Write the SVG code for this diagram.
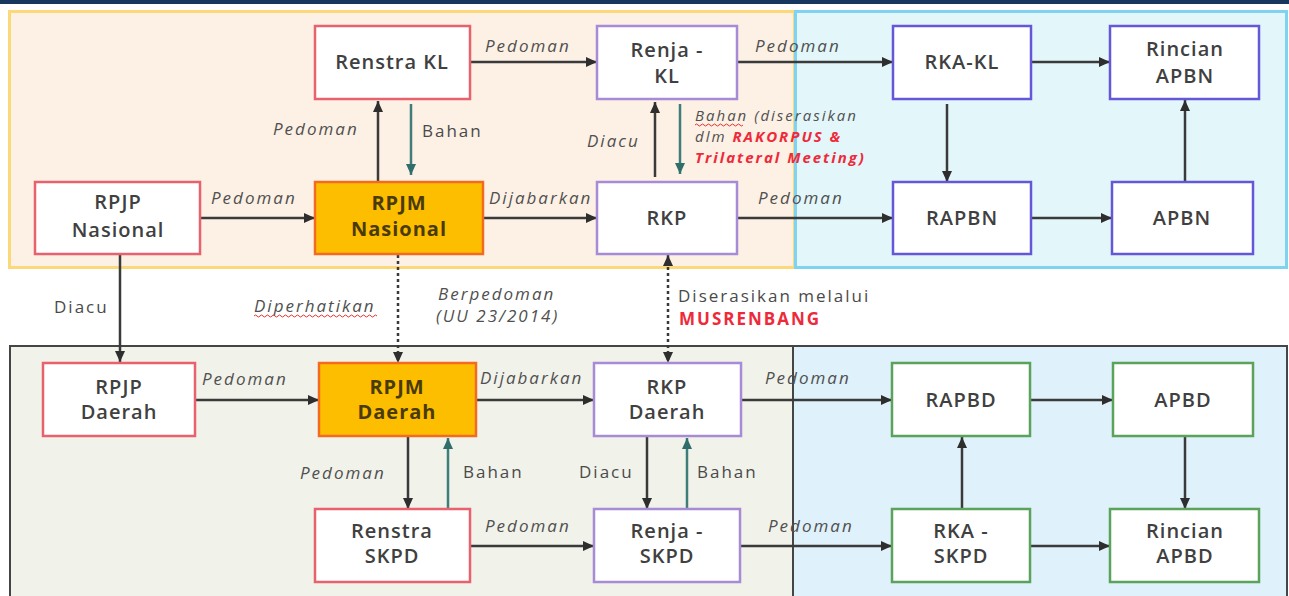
<svg xmlns="http://www.w3.org/2000/svg" width="1289" height="596" viewBox="0 0 1289 596">
<style>
.nt{font-family:"Open Sans","Noto Sans",sans-serif;font-size:20px;font-weight:600;fill:#404040;text-anchor:middle;letter-spacing:1px}
.nb{font-weight:700;fill:#4a3a05}
.lb{font-family:"Open Sans","Noto Sans",sans-serif;font-size:17px;font-style:italic;fill:#505050;letter-spacing:2px}
.ln{font-family:"Open Sans","Noto Sans",sans-serif;font-size:17px;fill:#4a4a4a;letter-spacing:2px}
.sm{font-size:15px;letter-spacing:2px}
.red{fill:#ee2a3a;font-weight:700}
.c{stroke:#3a3a3a;stroke-width:2.5;fill:none}
.t{stroke:#3f7d7a;stroke-width:2.5;fill:none}
.d{stroke:#3a3a3a;stroke-width:2.5;fill:none;stroke-dasharray:3 3}
.r{fill:#fff;stroke:#e8626e;stroke-width:2.5}
.o{fill:#fdbe00;stroke:#f26b21;stroke-width:2.5}
.p{fill:#fff;stroke:#a88bd6;stroke-width:2.5}
.b{fill:#fff;stroke:#6558d8;stroke-width:2.5}
.g{fill:#fff;stroke:#5ba35b;stroke-width:2.5}
.w{stroke:#e53030;stroke-width:1;fill:none}
</style>
<defs>
<marker id="a" markerUnits="userSpaceOnUse" markerWidth="11" markerHeight="10" refX="11" refY="5" orient="auto-start-reverse"><path d="M0,0 L11,5 L0,10 z" fill="#2e2e2e"/></marker>
<marker id="at" markerUnits="userSpaceOnUse" markerWidth="11" markerHeight="10" refX="11" refY="5" orient="auto"><path d="M0,0 L11,5 L0,10 z" fill="#2f6e6a"/></marker>
</defs>
<rect x="0" y="0" width="1289" height="4" fill="#17375e"/>
<g id="panels">
<rect x="9.5" y="11.5" width="785" height="256" fill="#fdf0e5" stroke="#fbd97a" stroke-width="3"/>
<rect x="795.5" y="11.5" width="491" height="256" fill="#e3f7fb" stroke="#7fd3f0" stroke-width="3"/>
<rect x="10" y="346" width="783" height="262" fill="#f1f2ea" stroke="#454545" stroke-width="2"/>
<rect x="793" y="346" width="494" height="262" fill="#dff1fa" stroke="#454545" stroke-width="2"/>
</g>
<g id="connectors">
<line class="c" x1="470" y1="62" x2="597" y2="62" marker-end="url(#a)"/>
<line class="c" x1="737" y1="62" x2="893" y2="62" marker-end="url(#a)"/>
<line class="c" x1="1031" y1="62" x2="1110" y2="62" marker-end="url(#a)"/>
<line class="c" x1="200" y1="218" x2="315" y2="218" marker-end="url(#a)"/>
<line class="c" x1="483" y1="218" x2="597" y2="218" marker-end="url(#a)"/>
<line class="c" x1="737" y1="218" x2="893" y2="218" marker-end="url(#a)"/>
<line class="c" x1="1031" y1="218" x2="1112" y2="218" marker-end="url(#a)"/>
<line class="c" x1="947" y1="104" x2="947" y2="182" marker-end="url(#a)"/>
<line class="c" x1="1185" y1="182" x2="1185" y2="100" marker-end="url(#a)"/>
<line class="c" x1="378" y1="182" x2="378" y2="101" marker-end="url(#a)"/>
<line class="t" x1="411" y1="104" x2="411" y2="175" marker-end="url(#at)"/>
<line class="c" x1="655" y1="177" x2="655" y2="102" marker-end="url(#a)"/>
<line class="t" x1="680" y1="104" x2="680" y2="174" marker-end="url(#at)"/>
<line class="c" x1="120" y1="254" x2="120" y2="362" marker-end="url(#a)"/>
<line class="d" x1="398" y1="255" x2="398" y2="363" marker-end="url(#a)"/>
<line class="d" x1="668" y1="255" x2="668" y2="363" marker-start="url(#a)" marker-end="url(#a)"/>
<line class="c" x1="195" y1="400" x2="319" y2="400" marker-end="url(#a)"/>
<line class="c" x1="476" y1="400" x2="594" y2="400" marker-end="url(#a)"/>
<line class="c" x1="741" y1="400" x2="892" y2="400" marker-end="url(#a)"/>
<line class="c" x1="1030" y1="400" x2="1113" y2="400" marker-end="url(#a)"/>
<line class="c" x1="1185" y1="436" x2="1185" y2="509" marker-end="url(#a)"/>
<line class="c" x1="962" y1="509" x2="962" y2="437" marker-end="url(#a)"/>
<line class="c" x1="408" y1="436" x2="408" y2="509" marker-end="url(#a)"/>
<line class="t" x1="448" y1="509" x2="448" y2="438" marker-end="url(#at)"/>
<line class="c" x1="647" y1="436" x2="647" y2="509" marker-end="url(#a)"/>
<line class="t" x1="687" y1="509" x2="687" y2="438" marker-end="url(#at)"/>
<line class="c" x1="470" y1="546" x2="594" y2="546" marker-end="url(#a)"/>
<line class="c" x1="740" y1="546" x2="892" y2="546" marker-end="url(#a)"/>
<line class="c" x1="1030" y1="546" x2="1110" y2="546" marker-end="url(#a)"/>
</g>
<g id="labels">
<text class="lb" x="485" y="52">Pedoman</text>
<text class="lb" x="755" y="52">Pedoman</text>
<text class="lb" x="211" y="204">Pedoman</text>
<text class="lb" x="489" y="204">Dijabarkan</text>
<text class="lb" x="758" y="204">Pedoman</text>
<text class="lb" x="273" y="135">Pedoman</text>
<text class="ln" x="422" y="137">Bahan</text>
<text class="lb" x="587" y="147">Diacu</text>
<text class="lb sm" x="695" y="121">Bahan (diserasikan</text>
<path class="w" d="M695,125 q1.5,-2 3,0 t3,0 t3,0 t3,0 t3,0 t3,0 t3,0 t3,0 t3,0 t3,0 t3,0 t3,0 t3,0 t3,0 t3,0 t3,0"/>
<text class="lb sm" x="695" y="142">dlm <tspan class="red">RAKORPUS &amp;</tspan></text>
<text class="lb sm red" x="695" y="163">Trilateral Meeting)</text>
<text class="ln" x="54" y="313">Diacu</text>
<text class="lb" x="254" y="312">Diperhatikan</text>
<path class="w" d="M254,316 q1.5,-2 3,0 t3,0 t3,0 t3,0 t3,0 t3,0 t3,0 t3,0 t3,0 t3,0 t3,0 t3,0 t3,0 t3,0 t3,0 t3,0 t3,0 t3,0 t3,0 t3,0 t3,0 t3,0 t3,0 t3,0 t3,0 t3,0 t3,0 t3,0 t3,0 t3,0 t3,0 t3,0 t3,0 t3,0 t3,0 t3,0 t3,0 t3,0 t3,0 t3,0 t3,0"/>
<text class="lb" x="438" y="300">Berpedoman</text>
<text class="lb" x="436" y="322">(UU 23/2014)</text>
<text class="ln" x="678" y="302">Diserasikan melalui</text>
<text class="ln red" x="679" y="325" font-size="16">MUSRENBANG</text>
<text class="lb" x="202" y="385">Pedoman</text>
<text class="lb" x="480" y="384">Dijabarkan</text>
<text class="lb" x="765" y="384">Pedoman</text>
<text class="lb" x="300" y="479">Pedoman</text>
<text class="ln" x="463" y="478">Bahan</text>
<text class="ln" x="579" y="478">Diacu</text>
<text class="ln" x="697" y="478">Bahan</text>
<text class="lb" x="485" y="532">Pedoman</text>
<text class="lb" x="768" y="532">Pedoman</text>
</g>
<g id="n-renstra-kl"><rect class="r" x="315" y="26" width="155" height="73"/><text class="nt" x="392" y="69">Renstra KL</text></g>
<g id="n-renja-kl"><rect class="p" x="597" y="26" width="140" height="73"/><text class="nt" x="667" y="57">Renja -</text><text class="nt" x="667" y="83">KL</text></g>
<g id="n-rka-kl"><rect class="b" x="893" y="26" width="138" height="73"/><text class="nt" x="962" y="69">RKA-KL</text></g>
<g id="n-rincian-apbn"><rect class="b" x="1110" y="26" width="149" height="73"/><text class="nt" x="1185" y="56">Rincian</text><text class="nt" x="1185" y="83">APBN</text></g>
<g id="n-rpjp-nasional"><rect class="r" x="35" y="182" width="165" height="72"/><text class="nt" x="118" y="209">RPJP</text><text class="nt" x="118" y="237">Nasional</text></g>
<g id="n-rpjm-nasional"><rect class="o" x="315" y="182" width="168" height="72"/><text class="nt nb" x="399" y="210">RPJM</text><text class="nt nb" x="399" y="236">Nasional</text></g>
<g id="n-rkp"><rect class="p" x="597" y="182" width="140" height="72"/><text class="nt" x="667" y="225">RKP</text></g>
<g id="n-rapbn"><rect class="b" x="893" y="182" width="138" height="72"/><text class="nt" x="962" y="225">RAPBN</text></g>
<g id="n-apbn"><rect class="b" x="1112" y="182" width="141" height="72"/><text class="nt" x="1182" y="225">APBN</text></g>
<g id="n-rpjp-daerah"><rect class="r" x="43" y="363" width="152" height="73"/><text class="nt" x="119" y="394">RPJP</text><text class="nt" x="119" y="419">Daerah</text></g>
<g id="n-rpjm-daerah"><rect class="o" x="319" y="363" width="157" height="73"/><text class="nt nb" x="397" y="394">RPJM</text><text class="nt nb" x="397" y="419">Daerah</text></g>
<g id="n-rkp-daerah"><rect class="p" x="594" y="363" width="147" height="73"/><text class="nt" x="667" y="394">RKP</text><text class="nt" x="667" y="419">Daerah</text></g>
<g id="n-rapbd"><rect class="g" x="892" y="363" width="138" height="73"/><text class="nt" x="961" y="407">RAPBD</text></g>
<g id="n-apbd"><rect class="g" x="1113" y="363" width="140" height="73"/><text class="nt" x="1183" y="407">APBD</text></g>
<g id="n-renstra-skpd"><rect class="r" x="315" y="509" width="155" height="73"/><text class="nt" x="392" y="538">Renstra</text><text class="nt" x="392" y="563">SKPD</text></g>
<g id="n-renja-skpd"><rect class="p" x="594" y="509" width="146" height="73"/><text class="nt" x="667" y="538">Renja -</text><text class="nt" x="667" y="563">SKPD</text></g>
<g id="n-rka-skpd"><rect class="g" x="892" y="509" width="138" height="73"/><text class="nt" x="961" y="538">RKA -</text><text class="nt" x="961" y="563">SKPD</text></g>
<g id="n-rincian-apbd"><rect class="g" x="1110" y="509" width="149" height="73"/><text class="nt" x="1185" y="538">Rincian</text><text class="nt" x="1185" y="563">APBD</text></g>
</svg>
